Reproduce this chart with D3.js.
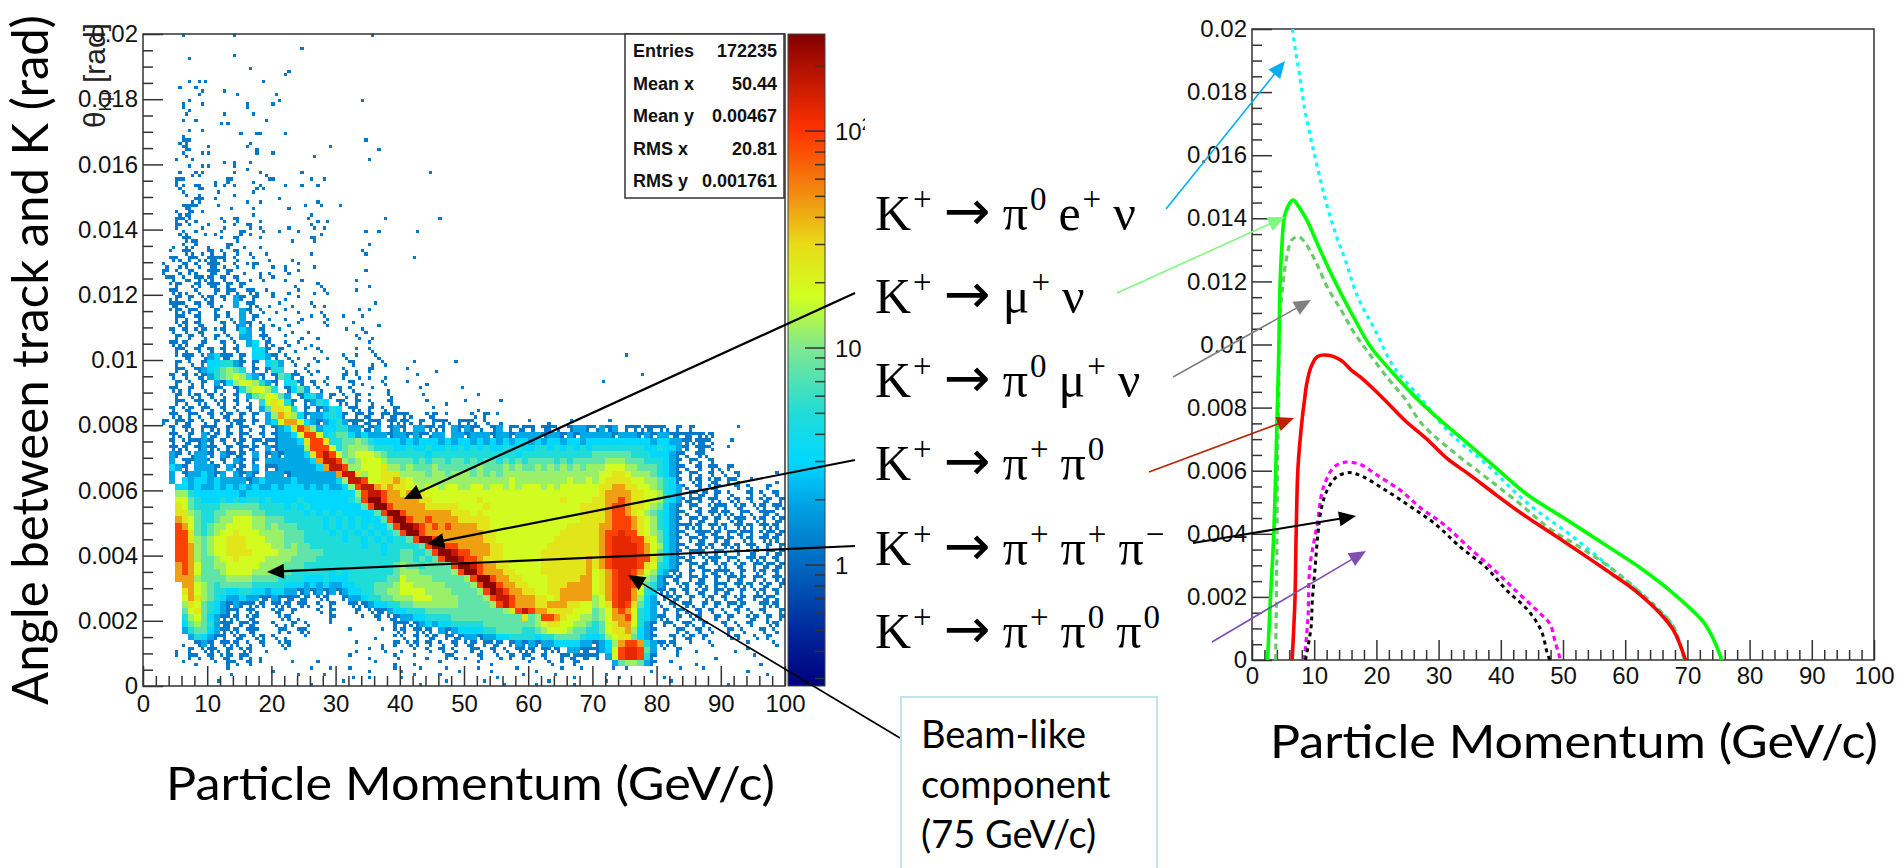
<!DOCTYPE html>
<html>
<head>
<meta charset="utf-8">
<style>
  html, body { margin: 0; padding: 0; background: #fff; overflow: hidden; }
</style>
<script src="https://cdn.jsdelivr.net/npm/d3@7"></script>
</head>
<body>
<div id="vis"></div>
<script>
// Left panel: 2D histogram, 1 GeV x 0.0002 rad cells, top row is 0.0198-0.02.
// Space separated groups are 10 columns each.
// . empty, a b c d one filled quarter of the cell, e f two quarters, 1 three quarters, 2-9 A D B C solid count level
const histRows = [
"......a... ....a..... .......... .....b",
"",
".......... .......... ....b",
".......c.. ....a",
"",
".......... ......b... ..d",
".......... .......... ..a",
".......abb ........b.",
".....b..ac ..d",
"........b. ....b..... b",
"......ca.c ......c... ca........ ....a",
"......ac.. ......a",
"......b... ..b....a",
"......a.a. ..cc.....a",
".......c.c",
"......c... .....a.ba. ..a",
".....d1a.. ......d... .......... ....b",
"......1c.. a.....ad.. .........a ......d",
"......e..a a......b.. a.....d...",
".....a.b.. ..d.c.d... .......... .....a",
".......a.a a...a.c",
".....b.dea ....a...ac ....b..... .......... ....b",
".....1a... .c.1...c.b a.....a.a.",
".....ea.1c .ab.a..de. ..a.b..a",
"......e.d. .b..c..a..",
".......d1a .a....c.c. .a.....c",
"......11a. .b.d...c.. ..d..a.b.. b",
".....ed1.a .......c.. ......c..",
".....1eac. ..e.1...c. .....b.cd. .......b.. ......a",
".....1.a.c a.d.a.1.c. ..d...e.c.",
".....de.ad .ca..1d.b. .a..a..d.. ....b.b... ..b",
"......1ec. ..a.1...a. ...c..1...",
"....d.eda. c..1.d..c. .......... .....a",
"....a.1e.c 1.e.1.d..c ......c... ....e...",
"....1e.1ed 111.e..a.d ...c...... .......... ..a",
"...e.d1.e. 11d.e.a1.. c.c.a.d...",
"...1.e.1c. 11.1.d..cd ..e.a..... ....b",
"...b1.ec1e 1.1.1.d.e. a.c.d..... ...c",
"....a1.d1. 11.1.1.... ...d...e.. .....c",
"....1ed.e. .1.1e.1e.a c.d.a.d.e. ...a....",
"....c1.1.e 1.1.21.1.. a.c.a....",
"....11e.1. 1.c.2.1e.d .a.c..e.c. ......a",
"....a1c1e. .1.c.21.e. d.a.c..d.. ...b.a..",
".....1e.1. .1.e.2.1.d ..c.d.a.e. .a..a",
".....e1.1c ..1.e21.e. c.d.a...e. ..b...d",
"....1.1.e1 .a1.b32.1. .a.c.d.... .b..e.",
".....1.1.e .1.e.22.1e ..a.d..c.. ...e.d...",
"....1e1.d1 ..1.e.23.1 c.e.a.c... .....a",
".....1e.1. 1.1.1..331 .1.d.a.e.. ...a.e..",
".....a11.e 2311.1.332 1.e.c.d.d. .e.a..e... .......... .......... .......... .....a",
".....1.e.1 334421.1.3 42.e.d.a.. ..1..d.e.. ..a.....b",
".....1e.12 345654.1.1 44.d.e.c.. .e.c.1.. .a...d..",
"....1.1.e1 245676421. 1541e.a.d. .1.e.c.d.. ..b..... .......... .......... .......b",
".....1.e.1 .213677642 1.341.1.e. ..1.c..e.. .a..c... .......... .......... .b",
"....1e.1.e .1e.146776 4.1352.e.. 1.e..b..c. ...a.....b",
".....1.e1. 1.e.1.2567 752.1342.1 .e.1.a..e. ...b... ..a",
".....1e.1e .e1.1.e.47 8741.1243. 1e.1.e..1. ....a..c a....b",
"....1.e1.1 e.1.e.1.25 8874.1.124 3.1e.1.e.1 .....a.... ..c...",
"....1e.1e. 1.e1.1.1.2 6986312234 31.1e1.1e1 1e..e1.a.. .e.1.a..",
"...1.1e1.e .1.e11.1.2 3799732123 4211e11.1e 1e.1.11e.1 1e.e.d.... a..c..b... ..b",
"....1.1e.1 1e.1.1e.1. 1238A96233 4422e12.12 1.221e1.21 21e.12.1e1 1.11e.1221 e212.11e11 1e.1.1.... ..b",
"....1e.1.2 e1.1.1e.1. 12237AA734 5532322212 2121e22.22 1222122122 2212212122 2221222121 2211111e1.",
"....1.e112 1.1.e1.1e1 122238AA84 4556543333 2323332323 3232323233 2323323323 3333333332 33221e11e. .b",
"....1e1.12 1e.1.1e1.2 122226AAA7 4566654443 3433433434 3434334343 3443434343 4444444433 43321.11e. .a",
"....21.e22 1.21e1.2.1 2122238ABA 7567776544 4444344444 4444444434 4444444444 5555554443 3321e.1e..",
"....2.1122 e.1.21.1.2 22222239BB A656777655 5545455455 4545545454 5555454555 5566655544 4321.1e.1.",
"....321.22 21.2e1.2.1 122222239B BA66777866 5655565555 5565556565 5656565656 6677766555 4321e.1.1e .1",
"....2.1223 212.2121.2 2212222222 9BB8677888 6666566566 6565656666 6666666666 6778876665 4321.1e.1. e.1.....b",
"....2.3233 2322221232 2223222222 36BBA77889 8766666666 6666666766 6666667667 6788887766 5431.e1.e1 .1e.b...d",
".....33232 2323232322 3233323232 236ABB9898 8776776776 6776776767 7767677777 7889988776 5432e.1.e1 ..1.e..1..",
".....66433 3333323333 3333333333 3336ABBA99 8988777777 7777777777 7777777777 7899998877 6432.1e1.1 .e..1.e.1.",
".....77543 3343434434 3333433333 3345ACCA99 9998877777 7787777777 7777787777 8899A98877 6432e11.1e .e1.1.e1.1",
".....87544 4455555544 4434343333 33335ACCA9 9999888887 7778777777 7777777788 889AA98876 5321.1e.e1 1.e1.e1.1e",
".....88654 4556666554 4444434343 4333335ACC A999999988 8787777777 7777777788 889AA98765 4321e.1.1e 1e.1e.11e.",
".....98754 4566777665 5544444434 34343335AC CA99A99998 8888777777 7777777788 889AAA9876 4321.1e1.1 .e11.e1.e1",
".....A9754 5667777665 6555444434 343434335A CCBA9A9A99 9988777777 7777778888 899AAA9876 43211e1.1e 1.1e1.1e1.",
".....AA854 5677877766 6655544443 4343434345 ACCA999999 9998877777 7777788888 89AADAA876 5321e.11e1 .1e11.e1e1",
".....AA865 6778887776 6655544444 4344343434 45ACCA9999 9998877777 7777888888 89ADDDAA87 5321.1e1.1 e1.e1.1e1.",
".....AA965 6778887777 6656554444 4444344344 4445ACCAA9 9999887777 7778888888 89ADDDDA97 6321e.1e1. 1e1.1e.1.1",
".....AA965 6778888777 7666555544 4444444344 55445ACCBA A999887777 7788888888 89ADDDDA97 5321.11e.1 e.1.e1.1e1",
".....AA965 5677877776 6665555444 4444444444 554545ACCB AA98887777 7788888889 89ADDDDAA8 5321e1.e11 .1e.1e1.1.",
".....9A975 5667777766 6655544444 4444444445 65545555AC CBA9988777 7788888889 89ADDDDA87 4321.1e1.e 1.e1.1e1e1",
".....9A975 5567777666 5554444443 4344444445 666555556A CCA9998877 7788888889 789ADDA976 321e.1.1e1 1e.1.e1.1.",
".....99965 5556666555 5444433343 3344444455 7666655555 6ACCA99887 7778888899 789ADDA865 21e1.1e1.1 .1e1.1e.1e",
"......9976 5455555444 4433323232 2334445556 7766666555 56ACCA9988 7778889999 789ADDA754 21.e1.1e.1 1.1e1.e1.1",
"......8976 5443344332 3322121212 1233445566 7777666655 556ACBA998 8778899999 789ADD9743 1e1.1.e1.1 e1.1.e1.1.",
"......7986 5432232211 2111e1.e1. .122344556 6677766665 5556ABBA99 9887899999 679ADD9632 .1e1.1.e1. 1.e1.1e1e.",
"......6875 4321211e1. 1e1.1e.e.1 ..1e123344 5566666665 55556ABA99 9889998877 678ADA8532 e.1.1e.1.1 .1e1..1e1.",
"......5785 43211.1e.. e1.1...e.1 ...1.e1123 3444555555 55555568AB A998888777 5679A97432 .1.1e.1.1. e.1.e.1..1",
"......4675 321e1.e1.. .e1.c....1 ....a.1.e1 2233444455 5555555558 56AA987766 56799A7432 1e.1.e1..1 .1..e1.1.1",
"......3565 4211.1e1.. e.c1.e...a .........1 1e12323344 4445555555 5678877665 4578997421 .1e.1e.1.. 1.e.1..e1.",
"......2455 321e1.11.. .1e.1e.... ..a....a.e 1.1e1.2123 3334455554 4567776554 4578896321 ...1e.1.e. .1.e..1.e.",
".......243 211.e1.e1. e.c..a.... ......c..a e.1.e1.1e1 2212233444 4344555543 3467885321 ..1.e1.1.. .e1..e.1..",
"......c.12 1.1e1.e.1. .e1....... ...a...c.1 .e1.1.e.1. e1.1e1.121 2122333322 12369AA942 1e1..a..e. ....a...e.",
".....c.1.e 1e.1.e1..c ..a....... ...c.a.e.. c.a.e.1.e. .1e.1.e.1e 1.1e1.2211 1237ADDA52 .a.1..c... ..c.a.....",
".....a.1e. 1.e1.1e.c. .......... ..a..c...e ..a.c..1e. c.1..e.1.1 e.1..1e111 1.27ADDA41 ...a.....c .....a....",
"......a.c. .a.1e.1.a. ...a...a.. ......a..c ..c...a... ..a.c..... a..e.a.1.. ...2566521 ..a...c... ......c...",
" ...a..... c.....a..a ..a..c...a c..a...a.c ..a.c...a. .c...a..a. ...a.a...c ...b...a.. ....c.....",
" ...b..... ....a...a. ..d..c.... c.a...a... .....c...a ....a..c.. ..a.c..... .c........ .......a..",
" .b........ ......c... .a........ ...c...a.. ...a..c... .c.a...c.. ..a....... ..a....... .c........"
]
const levelCounts = {2: 2, 3: 3, 4: 5, 5: 8, 6: 12, 7: 18, 8: 26, 9: 45, A: 90, D: 125, B: 170, C: 260}
const singleCount = 1.2
const quarterMasks = {a: [0], b: [1], c: [2], d: [3], e: [0, 3], f: [1, 2], 1: [0, 1, 3]}

// colour palette of the z axis, counts and colours
const zStops = [0.277, 0.48, 1, 2, 3, 5, 10, 17, 30, 50, 100, 200, 280]
const zColors = ['#00007f', '#00259a', '#0068c0', '#00a8e6', '#00d8ff', '#20dcd8', '#80e890', '#d0ff20', '#e8dc18', '#f09010', '#ff3300', '#b01000', '#7f0000']
const zMajor = [1, 10, 100]
const zMinor = [0.3, 0.4, 0.5, 0.6, 0.7, 0.8, 0.9, 2, 3, 4, 5, 6, 7, 8, 9, 20, 30, 40, 50, 60, 70, 80, 90, 200]

const statNames = ['Entries', 'Mean x', 'Mean y', 'RMS x', 'RMS y']
const statValues = ['172235', '50.44', '0.00467', '20.81', '0.001761']

const xMajor = [0, 10, 20, 30, 40, 50, 60, 70, 80, 90, 100]
const yMajor = [0, 0.002, 0.004, 0.006, 0.008, 0.01, 0.012, 0.014, 0.016, 0.018, 0.02]

// Right panel curves, [momentum GeV/c, angle rad]
const curveEnu = [[6.5,.02],[7,.0193],[7.6,.0186],[8.4,.01755],[9.5,.01649],[10.5,.01564],[12.1,.01437],[13.6,.01342],[15,.01268],[17,.01151],[19.8,.01045],[22.8,.00929],[26.95,.00834],[31.8,.0072],[37.6,.00622],[44.4,.00495],[51.3,.00395],[58.2,.00284],[65,.00167],[67.8,.00104],[69.5,0]]
const curveMuNu = [[2.5,0],[2.95,.00188],[3.5,.004],[4.1,.00823],[4.3,.00971],[4.5,.01183],[4.8,.0131],[5.35,.01416],[6.6,.01458],[7.5,.01437],[8.8,.01395],[10.5,.0132],[12.2,.01246],[14.3,.01162],[16.3,.01088],[19.1,.00992],[22.5,.00913],[27,.00819],[30,.00765],[34.8,.00684],[38.3,.00625],[44.4,.00522],[49.9,.00453],[56.1,.00374],[62.3,.00294],[67.8,.0021],[72.6,.0012],[74.3,.00061],[75.5,0]]
const curvePi0MuNu = [[3.8,0],[4,.00347],[4.1,.00612],[4.3,.00823],[4.5,.01088],[5,.01194],[5.5,.01268],[6.4,.01331],[7.5,.01342],[8.8,.01315],[10.5,.01252],[12.2,.01178],[14.3,.0111],[16.3,.01041],[18.4,.00983],[21.8,.00894],[24.5,.0083],[27.3,.00749],[31.4,.00675],[36.9,.0059],[42.4,.00506],[47.9,.00416],[52.7,.00358],[58.2,.00284],[65,.00167],[67.8,.00104],[69.5,0]]
const curvePiPi0 = [[6.45,0],[6.9,.00188],[7.1,.004],[7.4,.00612],[8.1,.0077],[8.44,.00823],[8.8,.00876],[9.5,.00929],[10.5,.00961],[12.2,.00966],[14.3,.0095],[16,.00918],[17.4,.00897],[21.1,.00829],[24.55,.0076],[28,.00702],[31.4,.00638],[34.8,.0059],[39,.00527],[43,.00469],[45.8,.00432],[49.9,.00379],[54.7,.00315],[58.2,.00268],[61.6,.0022],[65.7,.00146],[67.8,.00093],[69.7,0]]
const curvePiPi0Pi0 = [[8.4,0],[9,.00135],[9.3,.00294],[10.5,.00432],[11.2,.00527],[11.9,.00569],[13.2,.00612],[15,.00627],[17.4,.0062],[19.8,.0059],[23.9,.00537],[27.3,.00479],[30.7,.00432],[34.8,.00358],[39,.00284],[42.4,.0022],[45.8,.00157],[47.9,.00114],[48.7,.00061],[49.6,0]]
const curvePiPiPi = [[8.6,0],[9.5,.00104],[9.7,.00188],[10.15,.00294],[10.6,.004],[11.2,.00485],[12.2,.00543],[13.6,.0058],[15.6,.00594],[17.7,.00582],[21.1,.00543],[25.2,.0049],[29.4,.00432],[33.5,.00358],[37.6,.00294],[41,.0022],[44.4,.00157],[46.5,.00093],[47.5,.00019],[47.9,0]]

// decay names, ^ marks a superscript
const decayLabels = ['K^+ → π^0 e^+ ν', 'K^+ → μ^+ ν', 'K^+ → π^0 μ^+ ν', 'K^+ → π^+ π^0', 'K^+ → π^+ π^+ π^−', 'K^+ → π^+ π^0 π^0']
const decayBaselines = [230, 313, 397, 480, 565, 648]
const beamLines = ['Beam-like', 'component', '(75 GeV/c)']

const svg = d3.select('#vis').append('svg')
    .attr('width', 1899)
    .attr('height', 868)
    .style('display', 'block')
    .style('background', '#fff')

const SANS = '"Liberation Sans", Arial, sans-serif'
const SERIF = '"Liberation Serif", "Times New Roman", serif'
const TITLE = 'Lato, "Open Sans", sans-serif'

const xLeft = d3.scaleLinear([0, 100], [143, 785])
const yLeft = d3.scaleLinear([0, 0.02], [686, 34])
const xRight = d3.scaleLinear([0, 100], [1252, 1874])
const yRight = d3.scaleLinear([0, 0.02], [660, 29])
const zY = d3.scaleLog([0.277, 280], [686, 34])
const zColor = d3.scaleLog(zStops, zColors).clamp(true)

//Unpack the rows into single rects
const bins = []
histRows.forEach((row, r) => {
    row.split(' ').forEach((group, g) => {
        group.split('').forEach((ch, i) => {
            const gev = g * 10 + i
            const rad = 0.02 - (r + 1) * 0.0002
            if (levelCounts[ch]) {
                bins.push({x0: gev, x1: gev + 1, y0: rad, y1: rad + 0.0002, count: levelCounts[ch]})
            } else if (quarterMasks[ch]) {
                quarterMasks[ch].forEach(q => {
                    // three quarter cells flip on every other column so they do not line up
                    const side = ch === '1' && gev % 2 ? 1 - q % 2 : q % 2
                    const gx = gev + side * 0.5
                    const gy = rad + (q < 2 ? 0.0001 : 0)
                    bins.push({x0: gx, x1: gx + 0.5, y0: gy, y1: gy + 0.0001, count: singleCount})
                })
            }
        })
    })
})

svg.append('g').selectAll('rect')
    .data(bins)
    .enter()
    .append('rect')
        .attr('x', d => xLeft(d.x0))
        .attr('y', d => yLeft(d.y1))
        .attr('width', d => xLeft(d.x1) - xLeft(d.x0))
        .attr('height', d => yLeft(d.y0) - yLeft(d.y1))
        .attr('fill', d => zColor(d.count))
        .attr('shape-rendering', 'crispEdges')

//Axes of one panel, minor ticks first, frame on top
function drawFrame(x, y, padX, padY){
    const g = svg.append('g').attr('font-family', SANS)
    const xMinor = d3.range(0, 101, 2).filter(d => d % 10 !== 0)
    const yMinor = d3.range(0, 41).map(d => d * 0.0005).filter(d => d * 10000 % 20 > 1e-6)

    g.append('g').attr('transform', `translate(0, ${y(0)})`)
        .call(d3.axisBottom(x).tickValues(xMinor).tickSize(-10).tickFormat(''))
    g.append('g').attr('transform', `translate(${x(0)}, 0)`)
        .call(d3.axisLeft(y).tickValues(yMinor).tickSize(-10).tickFormat(''))
    g.append('g').attr('transform', `translate(0, ${y(0)})`)
        .call(d3.axisBottom(x).tickValues(xMajor).tickSize(-20).tickPadding(padX).tickFormat(d3.format('d')))
    g.append('g').attr('transform', `translate(${x(0)}, 0)`)
        .call(d3.axisLeft(y).tickValues(yMajor).tickSize(-20).tickPadding(padY).tickFormat(d => +d.toFixed(3)))

    g.selectAll('.domain').remove()
    // the minor axes have empty labels, drop them
    g.selectAll('text').filter(function () { return this.textContent === '' }).remove()
    g.selectAll('line').attr('stroke', '#333').attr('stroke-width', 1.5)
    g.selectAll('text').attr('font-size', 24).attr('fill', '#111')

    g.append('rect')
        .attr('x', x(0))
        .attr('y', y(0.02))
        .attr('width', x(100) - x(0))
        .attr('height', y(0) - y(0.02))
        .attr('fill', 'none')
        .attr('stroke', '#333')
        .attr('stroke-width', 1.5)
}

drawFrame(xLeft, yLeft, 9, 5)
drawFrame(xRight, yRight, 7, 5)

//Stats box
svg.append('rect')
    .attr('x', 625).attr('y', 34)
    .attr('width', 159).attr('height', 164)
    .attr('fill', '#fff')
    .attr('stroke', '#333')
    .attr('stroke-width', 1.5)

const statsY = d3.scalePoint(statNames, [57, 187])
svg.append('g').selectAll('text')
    .data(statNames)
    .enter()
    .append('text')
        .text(d => d)
        .attr('x', 633)
        .attr('y', d => statsY(d))
        .attr('font-family', SANS).attr('font-weight', 'bold').attr('font-size', 18).attr('fill', '#111')
svg.append('g').selectAll('text')
    .data(statValues)
    .enter()
    .append('text')
        .text(d => d)
        .attr('x', 777)
        .attr('y', (d, i) => statsY(statNames[i]))
        .attr('text-anchor', 'end')
        .attr('font-family', SANS).attr('font-weight', 'bold').attr('font-size', 18).attr('fill', '#111')

//Colour bar
const defs = svg.append('defs')
const grad = defs.append('linearGradient')
    .attr('id', 'zGrad')
    .attr('gradientUnits', 'userSpaceOnUse')
    .attr('x1', 0).attr('x2', 0)
    .attr('y1', zY.range()[0]).attr('y2', zY.range()[1])
grad.selectAll('stop')
    .data(zStops)
    .enter()
    .append('stop')
        .attr('offset', d => (zY(d) - zY.range()[0]) / (zY.range()[1] - zY.range()[0]))
        .attr('stop-color', (d, i) => zColors[i])

svg.append('rect')
    .attr('x', 788).attr('y', 34)
    .attr('width', 37).attr('height', 652)
    .attr('fill', 'url(#zGrad)')
    .attr('stroke', '#444')
    .attr('stroke-width', 1)

svg.append('g').selectAll('line')
    .data(zMajor.concat(zMinor))
    .enter()
    .append('line')
        .attr('x1', d => zMajor.includes(d) ? 805 : 815)
        .attr('x2', 825)
        .attr('y1', d => zY(d))
        .attr('y2', d => zY(d))
        .attr('stroke', '#333')
        .attr('stroke-width', 1.5)

defs.append('clipPath').attr('id', 'zClip')
    .append('rect').attr('x', 780).attr('y', 0).attr('width', 85).attr('height', 868)

const zLabels = svg.append('g')
    .attr('clip-path', 'url(#zClip)')
    .attr('font-family', SANS)
    .attr('font-size', 24)
    .attr('fill', '#111')
zLabels.selectAll('text')
    .data(zMajor)
    .enter()
    .append('text')
        .attr('x', 835)
        .attr('y', d => zY(d) + 9)
        .each(function (d) {
            const t = d3.select(this)
            if (d === 100) {
                t.append('tspan').text('10')
                t.append('tspan').text('2').attr('dy', -10).attr('font-size', 17)
            } else {
                t.text(d)
            }
        })

//Theta label, rotated and running into the tick labels like in the original
const thetaLabel = svg.append('text')
    .attr('transform', 'translate(105, 128) rotate(-90)')
    .attr('font-family', SANS)
    .attr('font-size', 30)
    .attr('fill', '#222')
thetaLabel.append('tspan').text('θ')
thetaLabel.append('tspan').text('Kμ').attr('font-size', 16).attr('dy', 6)
thetaLabel.append('tspan').text(' [rad]').attr('dy', -6)

//Curves of the right panel
const line = d3.line().x(d => xRight(d[0])).y(d => yRight(d[1])).curve(d3.curveCatmullRom.alpha(0.5))
const curves = [
    {points: curveEnu, color: '#00ffff', width: 3.2, dash: '4,4.5'},
    {points: curvePi0MuNu, color: '#66cc66', width: 3.2, dash: '6,4.5'},
    {points: curveMuNu, color: '#00ff00', width: 3.6, dash: null},
    {points: curvePiPi0, color: '#ff0000', width: 3.6, dash: null},
    {points: curvePiPi0Pi0, color: '#ff00ff', width: 3.2, dash: '5,4'},
    {points: curvePiPiPi, color: '#000000', width: 3, dash: '4,4'}
]
svg.append('g').selectAll('path')
    .data(curves)
    .enter()
    .append('path')
        .attr('d', d => line(d.points))
        .attr('fill', 'none')
        .attr('stroke', d => d.color)
        .attr('stroke-width', d => d.width)
        .attr('stroke-dasharray', d => d.dash)

//Annotation arrows between the panels, in page pixels
const arrows = [
    {from: [855, 293], to: [404, 499], color: '#000000', width: 2.2},
    {from: [855, 460], to: [427, 544], color: '#000000', width: 2.2},
    {from: [855, 546], to: [267, 572], color: '#000000', width: 2.2},
    {from: [900, 738], to: [628, 575], color: '#000000', width: 1.6},
    {from: [1166, 209], to: [1285, 61], color: '#00b0f0', width: 1.6},
    {from: [1117, 293], to: [1285, 217], color: '#80f880', width: 1.6},
    {from: [1173, 377], to: [1311, 300], color: '#808080', width: 1.6},
    {from: [1149, 472], to: [1294, 418], color: '#c01f00', width: 1.6},
    {from: [1193, 543], to: [1356, 516], color: '#000000', width: 2.2},
    {from: [1212, 642], to: [1366, 551], color: '#7f4fb0', width: 1.6}
]

const arrowGroup = svg.append('g')
arrows.forEach(a => {
    const angle = Math.atan2(a.to[1] - a.from[1], a.to[0] - a.from[0]) * 180 / Math.PI
    const len = Math.hypot(a.to[0] - a.from[0], a.to[1] - a.from[1])
    const g = arrowGroup.append('g')
        .attr('transform', `translate(${a.from[0]}, ${a.from[1]}) rotate(${angle})`)
    g.append('line')
        .attr('x1', 0).attr('y1', 0)
        .attr('x2', len - 12).attr('y2', 0)
        .attr('stroke', a.color)
        .attr('stroke-width', a.width)
    g.append('path')
        .attr('d', `M${len},0 L${len - 17},-7.5 L${len - 17},7.5 Z`)
        .attr('fill', a.color)
})

//Decay labels as text with superscripts, the pen goes back down on the next word
decayLabels.forEach((label, i) => {
    const t = svg.append('text')
        .attr('x', 875)
        .attr('y', decayBaselines[i])
        .attr('font-family', SERIF)
        .attr('font-size', 50)
        .attr('fill', '#000')
    let drop = 0
    label.split(' ').forEach((word, w) => {
        const parts = word.split('^')
        const base = t.append('tspan').text(parts[0])
            .attr('dx', w === 0 ? 0 : 12)
            .attr('dy', drop)
        if (parts[0] === '→') {
            base.attr('font-family', '"DejaVu Sans", sans-serif').attr('font-size', 56)
        }
        drop = 0
        if (parts[1]) {
            t.append('tspan').text(parts[1])
                .attr('font-size', 33)
                .attr('dx', 2)
                .attr('dy', -20)
            drop = 20
        }
    })
})

//Beam-like box, open at the page bottom
svg.append('rect')
    .attr('x', 901).attr('y', 697)
    .attr('width', 256).attr('height', 200)
    .attr('fill', '#fff')
    .attr('stroke', '#c3e4ea')
    .attr('stroke-width', 2)
svg.append('g').selectAll('text')
    .data(beamLines)
    .enter()
    .append('text')
        .text(d => d)
        .attr('x', 921)
        .attr('y', (d, i) => 748 + i * 50)
        .attr('font-family', TITLE)
        .attr('font-size', 38)
        .attr('fill', '#000')

//Hand titles of the slide
svg.append('text')
    .text('Angle between track and K (rad)')
    .attr('transform', 'translate(48, 705) rotate(-90)')
    .attr('textLength', 690)
    .attr('lengthAdjust', 'spacingAndGlyphs')
    .attr('font-family', TITLE)
    .attr('font-size', 50)
    .attr('fill', '#000')

svg.append('text')
    .text('Particle Momentum (GeV/c)')
    .attr('x', 166).attr('y', 800)
    .attr('textLength', 609)
    .attr('lengthAdjust', 'spacingAndGlyphs')
    .attr('font-family', TITLE)
    .attr('font-size', 46)
    .attr('fill', '#000')

svg.append('text')
    .text('Particle Momentum (GeV/c)')
    .attr('x', 1270).attr('y', 758)
    .attr('textLength', 608)
    .attr('lengthAdjust', 'spacingAndGlyphs')
    .attr('font-family', TITLE)
    .attr('font-size', 46)
    .attr('fill', '#000')
</script>
</body>
</html>
